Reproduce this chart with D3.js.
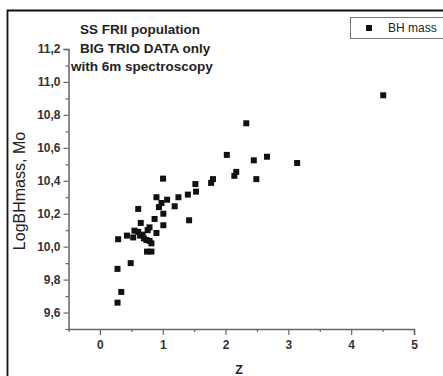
<!DOCTYPE html>
<html><head><meta charset="utf-8">
<script src="https://cdn.jsdelivr.net/npm/d3@7"></script>
<style>html,body{margin:0;padding:0;background:#fff;}svg{display:block;}</style>
</head><body>
<svg id="c" width="443" height="376"></svg>
<script>
const zValues = [0.28,0.34,0.28,0.49,0.29,0.43,0.53,0.55,0.61,0.61,0.65,0.68,0.70,0.74,0.79,0.82,0.75,0.82,0.76,0.79,0.87,0.90,0.90,0.94,0.98,1.01,1.01,1.005,1.07,1.19,1.25,1.40,1.42,1.52,1.53,1.77,1.80,2.02,2.14,2.17,2.33,2.45,2.49,2.66,3.14,4.51,0.64];
const bhMass = [9.66,9.725,9.865,9.90,10.045,10.067,10.056,10.097,10.09,10.229,10.144,10.073,10.05,10.04,10.035,10.02,9.97,9.97,10.10,10.117,10.168,10.083,10.30,10.24,10.265,10.20,10.13,10.413,10.285,10.245,10.30,10.316,10.16,10.38,10.334,10.387,10.41,10.557,10.43,10.454,10.749,10.524,10.41,10.546,10.508,10.919,10.067];
const xTicks = [0,1,2,3,4,5];
const yTicks = [9.6,9.8,10.0,10.2,10.4,10.6,10.8,11.0,11.2];
const titleLines = ["SS FRII population","BIG TRIO DATA only","with 6m spectroscopy"];
const legendLabel = "BH mass";

const svg = d3.select("#c");
const x = d3.scaleLinear().domain([-0.5,5]).range([68.5,414]);
const y = d3.scaleLinear().domain([9.5,11.2]).range([329,49]);
const axisColor = "#666";
const font = "'Liberation Sans', Arial, sans-serif";

// frame
svg.append("path").attr("d","M7.5,376 V10.5 H443").attr("fill","none").attr("stroke","#111").attr("stroke-width",1.8);

const xMinor = d3.range(-0.5,5.01,0.5).filter(v=>Math.abs(v-Math.round(v))>1e-6);
const yMinor = d3.range(9.5,11.21,0.1).filter(v=>Math.abs(v*5-Math.round(v*5))>1e-6);

const gx = svg.append("g").attr("transform","translate(0,329)");
gx.call(d3.axisBottom(x).tickValues(xTicks).tickSize(6).tickPadding(5).tickFormat(d3.format("d")));
const gxm = svg.append("g").attr("transform","translate(0,329)");
gxm.call(d3.axisBottom(x).tickValues(xMinor).tickSize(3).tickFormat(""));
gxm.select(".domain").remove();

const gy = svg.append("g").attr("transform","translate(68.5,0)");
gy.call(d3.axisLeft(y).tickValues(yTicks).tickSize(5).tickPadding(3).tickFormat(d=>d3.format(".1f")(d).replace(".",",")));
const gym = svg.append("g").attr("transform","translate(68.5,0)");
gym.call(d3.axisLeft(y).tickValues(yMinor).tickSize(3).tickFormat(""));
gym.select(".domain").remove();

svg.selectAll(".domain").attr("stroke",axisColor).attr("stroke-width",1.5);
svg.selectAll(".tick line").attr("stroke",axisColor).attr("stroke-width",1.2);
svg.selectAll(".tick text").attr("font-family",font).attr("font-size",12).attr("font-weight","bold").attr("fill","#333");
gx.selectAll(".domain").attr("d","M68.5,0.5H414.5V6");
gy.selectAll(".domain").attr("d","M-5,49.5H0.5V329");

// points
const pts = zValues.map((z,i)=>({z, v:bhMass[i]}));
svg.append("g").selectAll("rect").data(pts).join("rect")
  .attr("x",d=>x(d.z)-3).attr("y",d=>y(d.v)-3).attr("width",6).attr("height",6).attr("fill","#111");

// title
svg.append("g").selectAll("text").data(titleLines).join("text")
  .attr("x",(d,i)=> i===2 ? 71 : 80).attr("y",(d,i)=>34+i*18.5)
  .attr("font-family",font).attr("font-size",13.5).attr("font-weight","bold").attr("fill","#222")
  .text(d=>d);

// axis labels
svg.append("text").attr("transform","translate(25,191) rotate(-90)").attr("text-anchor","middle")
  .attr("font-family",font).attr("font-size",16).attr("fill","#222").text("LogBHmass, Mo");
svg.append("text").attr("x",239).attr("y",374).attr("text-anchor","middle")
  .attr("font-family",font).attr("font-size",12.5).attr("font-weight","bold").attr("fill","#222").text("Z");

// legend
const lg = svg.append("g");
lg.append("rect").attr("x",350.5).attr("y",17.5).attr("width",100).attr("height",21).attr("fill","#fff").attr("stroke","#777").attr("stroke-width",1);
lg.append("rect").attr("x",366).attr("y",25).attr("width",6).attr("height",6).attr("fill","#111");
lg.append("text").attr("x",388).attr("y",32).attr("font-family",font).attr("font-size",12).attr("fill","#222").text(legendLabel);
</script>
</body></html>
